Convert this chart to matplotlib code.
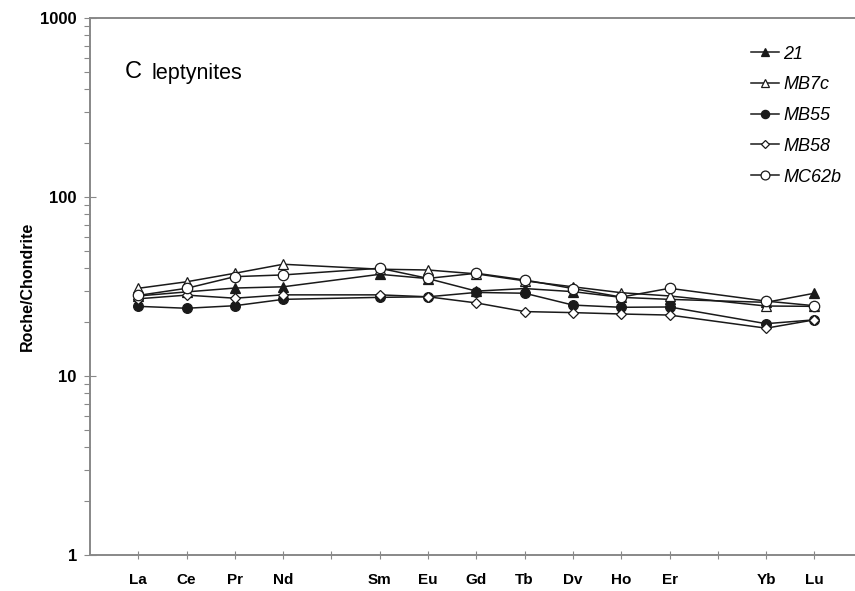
import matplotlib
matplotlib.use("Agg")
import matplotlib.pyplot as plt
from matplotlib.ticker import FixedLocator, NullFormatter, LogLocator

# Chondrite-normalised REE patterns, leptynites
elements = ["La", "Ce", "Pr", "Nd", "Sm", "Eu", "Gd", "Tb", "Dv", "Ho", "Er", "Yb", "Lu"]
positions = [1, 2, 3, 4, 6, 7, 8, 9, 10, 11, 12, 14, 15]

s21 = [28.0, 29.5, 31.0, 31.5, 37.0, 35.0, 29.8, 30.8, 29.6, 27.5, 26.8, 25.8, 29.0]
mb7c = [30.9, 33.6, 37.5, 42.1, 39.5, 39.1, 37.2, 34.0, 31.5, 29.2, 28.0, 24.6, 24.5]
mb55 = [24.5, 23.9, 24.7, 26.8, 27.5, 27.7, 29.3, 29.0, 24.9, 24.2, 24.3, 19.6, 20.6]
mb58 = [27.0, 28.3, 27.2, 28.4, 28.4, 27.7, 25.6, 22.9, 22.6, 22.2, 21.9, 18.5, 20.6]
mc62b = [28.2, 30.9, 35.9, 36.7, 40.0, 35.1, 37.5, 34.4, 30.8, 27.6, 30.9, 26.2, 24.7]

series = [
    ("21", s21, "^", "#1a1a1a", 7),
    ("MB7c", mb7c, "^", "white", 7),
    ("MB55", mb55, "o", "#1a1a1a", 7),
    ("MB58", mb58, "D", "white", 5),
    ("MC62b", mc62b, "o", "white", 7.5),
]

W, H = 855, 591
fig = plt.figure(figsize=(W / 100, H / 100), dpi=100)
ax = fig.add_axes([90 / W, (H - 555) / H, 765 / W, (555 - 18) / H])

for name, vals, mk, fc, ms in series:
    ax.plot(positions, vals, color="#1a1a1a", lw=1.1, marker=mk, ms=ms,
            mfc=fc, mec="#1a1a1a", mew=0.9, label=name)

ax.set_yscale("log")
ax.set_ylim(1, 1000)
ax.set_xlim(0, 15.84)

ax.yaxis.set_major_locator(FixedLocator([1, 10, 100, 1000]))
ax.set_yticklabels(["1", "10", "100", "1000"], fontweight="bold", fontsize=12,
                   family="Liberation Sans")
ax.yaxis.set_minor_locator(LogLocator(base=10, subs=range(2, 10)))
ax.yaxis.set_minor_formatter(NullFormatter())
ax.tick_params(axis="y", which="major", direction="inout", length=9, width=0.8,
               color="#888888", pad=5)
ax.tick_params(axis="y", which="minor", direction="out", length=4, width=0.8,
               color="#888888")

ax.xaxis.set_major_locator(FixedLocator(positions))
ax.set_xticklabels(elements, fontweight="bold", fontsize=11,
                   family=["Liberation Sans Narrow", "Liberation Sans"])
ax.xaxis.set_minor_locator(FixedLocator(range(1, 16)))
ax.tick_params(axis="x", which="both", direction="inout", length=6, width=0.8,
               color="#888888", pad=10)

for side in ("left", "bottom", "top"):
    ax.spines[side].set_color("#888888")
    ax.spines[side].set_linewidth(1.4)
ax.spines["right"].set_visible(False)

ax.set_ylabel("Roche/Chondrite", fontweight="bold", fontsize=11.5,
              family="Liberation Sans", labelpad=4)

ax.text(0.045, 0.9, "C", transform=ax.transAxes, fontsize=17,
        family="Liberation Sans", va="center", ha="left")
ax.text(0.081, 0.897, "leptynites", transform=ax.transAxes, fontsize=15.5,
        family="Liberation Sans", va="center", ha="left")

leg = ax.legend(loc="upper left", bbox_to_anchor=(0.854, 0.962), frameon=False,
                handlelength=1.55, handletextpad=0.25, labelspacing=0.76,
                markerscale=0.85,
                prop={"family": "Liberation Sans", "style": "italic", "size": 13},
                borderaxespad=0)

fig.savefig("out.png", dpi=100, facecolor="white")
